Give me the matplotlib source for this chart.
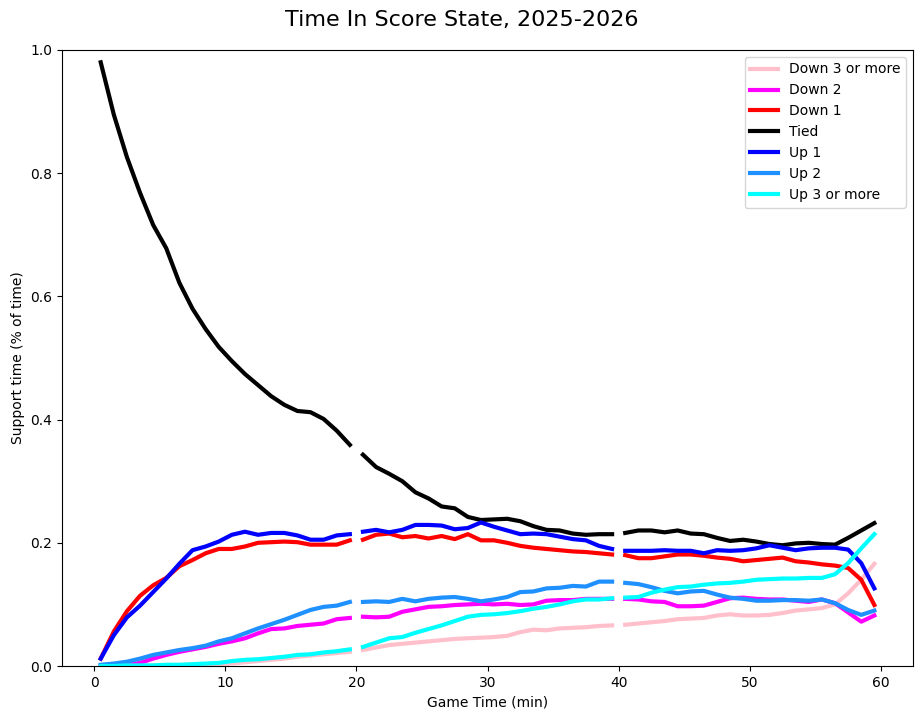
import matplotlib
matplotlib.use("Agg")
import matplotlib.pyplot as plt
import numpy as np

# minute mid-points for each period, NaN between periods so the lines break
p1 = [m + 0.5 for m in range(0, 20)]
p2 = [m + 0.5 for m in range(20, 40)]
p3 = [m + 0.5 for m in range(40, 60)]
minutes = p1 + [np.nan] + p2 + [np.nan] + p3

labels = ["Down 3 or more", "Down 2", "Down 1", "Tied", "Up 1", "Up 2", "Up 3 or more"]
colors = ["pink", "magenta", "red", "black", "blue", "dodgerblue", "cyan"]

down3 = [0.000, 0.000, 0.000, 0.000, 0.001, 0.001, 0.001, 0.002, 0.002, 0.003,
         0.004, 0.006, 0.008, 0.010, 0.012, 0.015, 0.017, 0.019, 0.021, 0.023,
         None,
         0.026, 0.030, 0.034, 0.036, 0.038, 0.040, 0.042, 0.044, 0.045, 0.046,
         0.047, 0.049, 0.055, 0.059, 0.058, 0.061, 0.062, 0.063, 0.065, 0.066,
         None,
         0.067, 0.069, 0.071, 0.073, 0.076, 0.077, 0.078, 0.082, 0.084, 0.082,
         0.082, 0.083, 0.086, 0.090, 0.092, 0.094, 0.100, 0.118, 0.140, 0.166]

down2 = [0.000, 0.001, 0.002, 0.005, 0.012, 0.018, 0.023, 0.027, 0.031, 0.036,
         0.040, 0.045, 0.053, 0.060, 0.061, 0.065, 0.067, 0.069, 0.076, 0.078,
         None,
         0.080, 0.079, 0.080, 0.088, 0.092, 0.096, 0.097, 0.099, 0.100, 0.101,
         0.100, 0.101, 0.099, 0.100, 0.106, 0.107, 0.107, 0.109, 0.109, 0.109,
         None,
         0.109, 0.108, 0.105, 0.104, 0.097, 0.097, 0.098, 0.104, 0.110, 0.111,
         0.109, 0.108, 0.108, 0.106, 0.104, 0.108, 0.102, 0.087, 0.072, 0.082]

down1 = [0.012, 0.056, 0.089, 0.114, 0.131, 0.143, 0.162, 0.172, 0.183, 0.190,
         0.190, 0.194, 0.200, 0.201, 0.202, 0.201, 0.197, 0.197, 0.197, 0.204,
         None,
         0.205, 0.213, 0.215, 0.209, 0.211, 0.207, 0.211, 0.206, 0.214, 0.204,
         0.204, 0.200, 0.195, 0.192, 0.190, 0.188, 0.186, 0.185, 0.183, 0.181,
         None,
         0.180, 0.175, 0.175, 0.178, 0.181, 0.181, 0.179, 0.176, 0.174, 0.170,
         0.172, 0.174, 0.176, 0.170, 0.168, 0.165, 0.163, 0.159, 0.140, 0.099]

tied = [0.980, 0.895, 0.826, 0.768, 0.716, 0.678, 0.622, 0.580, 0.547, 0.518,
        0.495, 0.474, 0.456, 0.438, 0.424, 0.414, 0.412, 0.401, 0.382, 0.359,
        None,
        0.343, 0.323, 0.312, 0.300, 0.282, 0.272, 0.259, 0.256, 0.242, 0.237,
        0.238, 0.239, 0.235, 0.227, 0.221, 0.220, 0.215, 0.213, 0.214, 0.214,
        None,
        0.216, 0.220, 0.220, 0.217, 0.220, 0.215, 0.214, 0.208, 0.203, 0.205,
        0.202, 0.198, 0.196, 0.199, 0.200, 0.198, 0.197, 0.208, 0.220, 0.232]

up1 = [0.012, 0.050, 0.079, 0.098, 0.120, 0.142, 0.166, 0.188, 0.194, 0.202,
       0.213, 0.218, 0.213, 0.216, 0.216, 0.212, 0.205, 0.205, 0.212, 0.214,
       None,
       0.218, 0.221, 0.217, 0.221, 0.229, 0.229, 0.228, 0.222, 0.224, 0.233,
       0.226, 0.220, 0.214, 0.215, 0.214, 0.210, 0.206, 0.204, 0.195, 0.190,
       None,
       0.187, 0.187, 0.187, 0.188, 0.187, 0.187, 0.183, 0.188, 0.187, 0.188,
       0.191, 0.196, 0.192, 0.188, 0.191, 0.192, 0.192, 0.189, 0.167, 0.126]

up2 = [0.002, 0.004, 0.007, 0.012, 0.018, 0.022, 0.026, 0.029, 0.033, 0.040,
       0.045, 0.053, 0.061, 0.068, 0.075, 0.083, 0.091, 0.096, 0.098, 0.104,
       None,
       0.104, 0.105, 0.104, 0.109, 0.105, 0.109, 0.111, 0.112, 0.109, 0.105,
       0.108, 0.112, 0.120, 0.121, 0.126, 0.127, 0.130, 0.129, 0.137, 0.137,
       None,
       0.135, 0.133, 0.128, 0.122, 0.118, 0.121, 0.122, 0.116, 0.111, 0.109,
       0.106, 0.106, 0.107, 0.107, 0.106, 0.108, 0.102, 0.091, 0.083, 0.090]

up3 = [0.000, 0.000, 0.001, 0.001, 0.001, 0.002, 0.002, 0.003, 0.004, 0.005,
       0.008, 0.010, 0.011, 0.013, 0.015, 0.018, 0.019, 0.022, 0.024, 0.027,
       None,
       0.031, 0.038, 0.045, 0.047, 0.054, 0.060, 0.066, 0.073, 0.080, 0.083,
       0.084, 0.086, 0.089, 0.093, 0.096, 0.100, 0.105, 0.108, 0.108, 0.110,
       None,
       0.111, 0.112, 0.119, 0.124, 0.128, 0.129, 0.132, 0.134, 0.135, 0.137,
       0.140, 0.141, 0.142, 0.142, 0.143, 0.143, 0.149, 0.167, 0.191, 0.214]

series = [down3, down2, down1, tied, up1, up2, up3]

fig = plt.figure(figsize=(9.23, 7.19), dpi=100)
ax = fig.add_axes([0.0672, 0.0737, 0.9220, 0.8568])

x = np.array(minutes, dtype=float)
for vals, lab, col in zip(series, labels, colors):
    y = np.array([np.nan if v is None else v for v in vals], dtype=float)
    ax.plot(x, y, color=col, linewidth=3, label=lab)

ax.set_ylim(0, 1)
ax.set_xlabel("Game Time (min)")
ax.set_ylabel("Support time (% of time)")
ax.legend(loc="upper right")
fig.suptitle("Time In Score State, 2025-2026", fontsize=16, y=0.972, va="center")

fig.savefig("out.png", dpi=100)
